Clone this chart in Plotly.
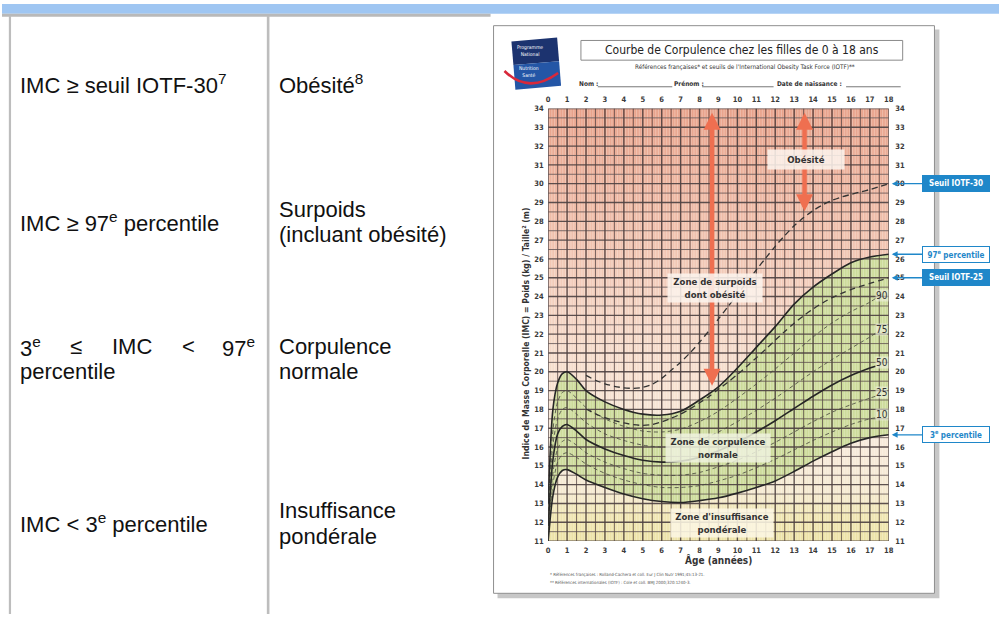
import numpy as np
import plotly.graph_objects as go

W, H = 1004, 619

# ---------------- data ----------------
ages = [0, 0.25, 0.5, 0.75, 1, 1.5, 2, 3, 4, 5, 6, 7, 8, 9, 10, 11, 12, 13, 14, 15, 16, 17, 18]
p97 = [13.0, 18.0, 19.4, 19.9, 20.0, 19.6, 19.0, 18.4, 18.0, 17.75, 17.7, 17.9, 18.5, 19.2, 20.2,
       21.3, 22.4, 23.6, 24.5, 25.2, 25.8, 26.1, 26.25]
p3 = [11.0, 13.4, 14.4, 14.75, 14.8, 14.55, 14.25, 13.85, 13.5, 13.25, 13.1, 13.05, 13.15, 13.3,
      13.55, 13.85, 14.2, 14.7, 15.25, 15.75, 16.2, 16.5, 16.65]

ages_mid = [0, 0.25, 0.5, 0.75, 1, 1.5, 2, 3, 4, 5, 6, 7, 8, 9, 10, 11, 12, 13, 14, 15, 16, 17, 17.3]
p90 = [12.6, 16.9, 18.4, 18.9, 19.0, 18.6, 18.1, 17.5, 17.1, 16.85, 16.8, 16.95, 17.35, 17.9, 18.6,
       19.35, 20.15, 21.0, 21.85, 22.6, 23.2, 23.7, 23.9]
p75 = [12.2, 16.1, 17.5, 18.0, 18.1, 17.75, 17.3, 16.7, 16.35, 16.1, 16.0, 16.05, 16.35, 16.8, 17.35,
       17.95, 18.6, 19.3, 20.0, 20.65, 21.25, 21.85, 22.05]
p50 = [11.8, 15.3, 16.7, 17.1, 17.2, 16.85, 16.4, 15.9, 15.55, 15.3, 15.2, 15.25, 15.45, 15.8, 16.25,
       16.8, 17.4, 18.05, 18.7, 19.3, 19.8, 20.2, 20.3]
p25 = [11.5, 14.6, 15.9, 16.3, 16.4, 16.1, 15.7, 15.2, 14.85, 14.6, 14.5, 14.5, 14.65, 14.95, 15.3,
       15.75, 16.25, 16.8, 17.35, 17.85, 18.25, 18.6, 18.7]
p10 = [11.3, 14.0, 15.2, 15.6, 15.7, 15.45, 15.1, 14.6, 14.25, 14.0, 13.85, 13.85, 13.95, 14.2, 14.5,
       14.9, 15.35, 15.85, 16.35, 16.8, 17.2, 17.5, 17.55]

iotf_ages = [2, 2.5, 3, 3.5, 4, 4.5, 5, 5.5, 6, 6.5, 7, 7.5, 8, 8.5, 9, 9.5, 10, 10.5, 11, 11.5,
             12, 12.5, 13, 13.5, 14, 14.5, 15, 15.5, 16, 16.5, 17, 17.5, 18]
iotf25 = [18.02, 17.76, 17.56, 17.40, 17.28, 17.19, 17.15, 17.20, 17.34, 17.53, 17.75, 18.03, 18.35,
          18.69, 19.07, 19.45, 19.86, 20.29, 20.74, 21.20, 21.68, 22.14, 22.58, 22.98, 23.34, 23.66,
          23.94, 24.17, 24.37, 24.54, 24.70, 24.85, 25.00]
iotf30 = [19.81, 19.55, 19.36, 19.23, 19.15, 19.12, 19.17, 19.34, 19.65, 20.08, 20.51, 21.01, 21.57,
          22.18, 22.81, 23.46, 24.11, 24.77, 25.42, 26.05, 26.67, 27.24, 27.76, 28.20, 28.57, 28.87,
          29.11, 29.29, 29.43, 29.56, 29.69, 29.84, 30.00]

x_ticks = list(range(0, 19))
y_ticks = list(range(11, 35))
mid_labels = ["90", "75", "50", "25", "10"]

# ---------------- helpers ----------------
NARROW = "Liberation Sans Narrow, DejaVu Sans Condensed, Roboto Condensed, Arial Narrow, Roboto, sans-serif"
ARIAL = "Liberation Sans, Arial, sans-serif"


def px(x):
    return x / W


def py(y):
    return 1 - y / H


XMIN, XMAX, YMIN, YMAX = 0, 18, 11, 34
X0P, X1P, Y0P, Y1P = 550, 893, 545, 106

fig = go.Figure()

# green zone between P3 and P97
fig.add_trace(go.Scatter(x=ages, y=p3, mode="lines", line=dict(width=0, shape="spline", smoothing=0.8),
                         hoverinfo="skip", showlegend=False))
fig.add_trace(go.Scatter(x=ages, y=p97, mode="lines", line=dict(width=0, shape="spline", smoothing=0.8),
                         fill="tonexty", fillcolor="rgb(196,213,138)", hoverinfo="skip", showlegend=False))


def grid_trace(xs=None, ys=None, color="black", width=1):
    X, Y = [], []
    if xs is not None:
        for v in xs:
            X += [v, v, None]
            Y += [YMIN, YMAX, None]
    if ys is not None:
        for v in ys:
            X += [XMIN, XMAX, None]
            Y += [v, v, None]
    return go.Scatter(x=X, y=Y, mode="lines", line=dict(color=color, width=width),
                      hoverinfo="skip", showlegend=False)


months = [m / 12 for m in range(0, 18 * 12 + 1) if m % 6 != 0]
fig.add_trace(grid_trace(xs=months, color="rgba(255,255,250,0.55)", width=0.7))
fig.add_trace(grid_trace(xs=[h + 0.5 for h in range(18)], color="rgba(92,78,78,0.8)", width=1.0))
fig.add_trace(grid_trace(ys=[h + 0.5 for h in range(11, 34)], color="rgba(92,78,78,0.8)", width=1.0))
fig.add_trace(grid_trace(xs=x_ticks, color="rgba(78,66,66,0.92)", width=1.35))
fig.add_trace(grid_trace(ys=y_ticks, color="rgba(78,66,66,0.92)", width=1.35))

# curves
thin = dict(color="#4c4c42", width=0.85, dash="4px,3px", shape="spline", smoothing=0.8)
for arr in [p90, p75, p25, p10]:
    fig.add_trace(go.Scatter(x=ages_mid, y=arr, mode="lines", line=thin, hoverinfo="skip", showlegend=False))
fig.add_trace(go.Scatter(x=ages_mid, y=p50, mode="lines",
                         line=dict(color="#262626", width=1.6, shape="spline", smoothing=0.8),
                         hoverinfo="skip", showlegend=False))
for arr in [iotf25, iotf30]:
    fig.add_trace(go.Scatter(x=iotf_ages, y=arr, mode="lines",
                             line=dict(color="#333333", width=1.3, dash="6px,4px", shape="spline", smoothing=0.8),
                             hoverinfo="skip", showlegend=False))
for arr in [p97, p3]:
    fig.add_trace(go.Scatter(x=ages, y=arr, mode="lines",
                             line=dict(color="#262626", width=1.6, shape="spline", smoothing=0.8),
                             hoverinfo="skip", showlegend=False))

# dummy trace for top / right axes
fig.add_trace(go.Scatter(x=[None], y=[None], xaxis="x2", yaxis="y2", showlegend=False, hoverinfo="skip"))

# ---------------- shapes ----------------
shapes = []
# left table decorations
shapes.append(dict(type="rect", xref="paper", yref="paper", x0=0, x1=1, y0=py(10), y1=1,
                   fillcolor="#9fc6f2", line=dict(width=0), layer="below"))
shapes.append(dict(type="rect", xref="paper", yref="paper", x0=0, x1=px(492), y0=py(13), y1=py(10),
                   fillcolor="#b9b9b9", line=dict(width=0), layer="below"))
for xv, wv in [(8, 2.2), (268, 2.6)]:
    shapes.append(dict(type="line", xref="paper", yref="paper", x0=px(xv), x1=px(xv), y0=0, y1=py(12),
                       line=dict(color="#bdbdbd", width=wv), layer="below"))
# document sheet + shadow
shapes.append(dict(type="rect", xref="paper", yref="paper", x0=px(499), x1=px(944), y0=py(603), y1=py(26),
                   fillcolor="rgba(0,0,0,0.22)", line=dict(width=0), layer="below"))
shapes.append(dict(type="rect", xref="paper", yref="paper", x0=px(495), x1=px(939), y0=py(598), y1=py(22),
                   fillcolor="white", line=dict(color="#8f8f8f", width=1), layer="below"))
# title box
shapes.append(dict(type="rect", xref="paper", yref="paper", x0=px(583), x1=px(907), y0=py(57), y1=py(37),
                   fillcolor="white", line=dict(color="#8a8a8a", width=1), layer="below"))
# name fields underlines
for a, b in [(600, 675), (705, 777), (850, 905)]:
    shapes.append(dict(type="line", xref="paper", yref="paper", x0=px(a), x1=px(b), y0=py(84), y1=py(84),
                       line=dict(color="#555", width=0.8), layer="below"))
# logo
shapes.append(dict(type="path", xref="paper", yref="paper",
                   path=f"M {px(513)},{py(38)} L {px(559)},{py(34)} L {px(561)},{py(58)} L {px(515)},{py(62)} Z",
                   fillcolor="#1c336f", line=dict(width=0), layer="below"))
shapes.append(dict(type="path", xref="paper", yref="paper",
                   path=f"M {px(515)},{py(62)} L {px(561)},{py(58)} L {px(563)},{py(83)} L {px(517)},{py(87)} Z",
                   fillcolor="#2456a6", line=dict(width=0), layer="below"))
shapes.append(dict(type="path", xref="paper", yref="paper",
                   path=f"M {px(506)},{py(68)} Q {px(530)},{py(92)} {px(560)},{py(70)}",
                   line=dict(color="#d8283a", width=2.5), layer="below"))

# colored background bands of the chart
stops = [(11, (234, 222, 152)), (12.5, (238, 226, 168)), (13.5, (244, 230, 202)), (16, (247, 231, 214)),
         (20, (246, 218, 200)), (24, (242, 200, 181)), (28, (237, 178, 156)), (34, (229, 146, 120))]
sv = [s[0] for s in stops]
for b in np.arange(YMIN, YMAX, 0.5):
    mid = b + 0.25
    c = [int(np.interp(mid, sv, [s[1][k] for s in stops])) for k in range(3)]
    shapes.append(dict(type="rect", xref="x", yref="y", x0=XMIN, x1=XMAX, y0=b, y1=b + 0.5,
                       fillcolor=f"rgb({c[0]},{c[1]},{c[2]})", line=dict(width=0), layer="below"))

# ---------------- annotations ----------------
ann = []


def txt(x, y, text, size, color="#111", family=ARIAL, xanchor="left", yanchor="middle", **kw):
    ann.append(dict(x=px(x), y=py(y), xref="paper", yref="paper", text=text, showarrow=False,
                    font=dict(size=size, color=color, family=family), xanchor=xanchor, yanchor=yanchor,
                    borderpad=0, **kw))


# left table
T = 22
txt(17, 81, "IMC ≥ seuil IOTF-30<sup>7</sup>", T)
txt(278, 81, "Obésité<sup>8</sup>", T)
txt(17, 221, "IMC ≥ 97<sup>e</sup> percentile", T)
txt(278, 209, "Surpoids", T)
txt(278, 234, "(incluant obésité)", T)
txt(17, 348, "3<sup>e</sup>", T)
txt(67, 348, "≤", T)
txt(110, 348, "IMC", T)
txt(180, 348, "<", T)
txt(221, 348, "97<sup>e</sup>", T)
txt(17, 373, "percentile", T)
txt(278, 348, "Corpulence", T)
txt(278, 373, "normale", T)
txt(17, 527, "IMC < 3<sup>e</sup> percentile", T)
txt(278, 514, "Insuffisance", T)
txt(278, 540, "pondérale", T)

# sheet texts
txt(745, 47, "Courbe de Corpulence chez les filles de 0 à 18 ans", 12, color="#222", family=NARROW,
    xanchor="center")
txt(748, 64, "Références françaises* et seuils de l'International Obesity Task Force (IOTF)**", 6.3,
    color="#333", family=NARROW, xanchor="center")
txt(580, 81, "<b>Nom :</b>", 6.5, color="#333", family=NARROW)
txt(676, 81, "<b>Prénom :</b>", 6.5, color="#333", family=NARROW)
txt(779, 81, "<b>Date de naissance :</b>", 6.5, color="#333", family=NARROW)
txt(518, 47, "Programme<br>National", 5, color="white", family=NARROW)
txt(520, 69, "Nutrition<br>Santé", 5, color="white", family=NARROW)
txt(722, 564, "<b>Âge (années)</b>", 10, color="#333", family=NARROW, xanchor="center")
ann.append(dict(x=px(528), y=py(334), xref="paper", yref="paper", showarrow=False, textangle=-90,
                text="<b>Indice de Masse Corporelle (IMC) = Poids (kg) / Taille² (m)</b>",
                font=dict(size=8.6, color="#333", family=NARROW), xanchor="center", yanchor="middle"))
txt(551, 579, "* Références françaises : Rolland-Cachera et coll. Eur J Clin Nutr 1991;45:13-21.", 4.3,
    color="#555", family=NARROW)
txt(551, 587, "** Références internationales (IOTF) : Cole et coll. BMJ 2000;320:1240-3.", 4.3,
    color="#555", family=NARROW)

# orange double arrows
for a_age, curve_a, curve_v, off in [(8.66, ages, p97, 0.3), (13.55, iotf_ages, iotf30, 0.3)]:
    yend = float(np.interp(a_age, curve_a, curve_v)) + off
    ann.append(dict(x=a_age, y=yend, xref="x", yref="y", ax=a_age, ay=33.85, axref="x", ayref="y",
                    text="", showarrow=True, arrowhead=2, arrowside="end+start", arrowsize=0.75,
                    arrowwidth=4.5, arrowcolor="#ef6f50"))

# zone labels
box_bg = "rgba(252,242,236,0.88)"
ann.append(dict(x=13.6, y=31.26, xref="x", yref="y", text="<b>Obésité</b>", showarrow=False,
                font=dict(size=9.5, color="#333", family=NARROW), bgcolor=box_bg, width=74, height=17))
ann.append(dict(x=8.81, y=24.45, xref="x", yref="y", text="<b>Zone de surpoids<br>dont obésité</b>",
                showarrow=False, font=dict(size=9.5, color="#333", family=NARROW), bgcolor=box_bg,
                width=92, height=26))
ann.append(dict(x=9.0, y=15.95, xref="x", yref="y", text="<b>Zone de corpulence<br>normale</b>",
                showarrow=False, font=dict(size=9.5, color="#333", family=NARROW),
                bgcolor="rgba(238,242,222,0.85)", width=102, height=26))
ann.append(dict(x=9.2, y=11.95, xref="x", yref="y", text="<b>Zone d'insuffisance<br>pondérale</b>",
                showarrow=False, font=dict(size=9.5, color="#333", family=NARROW),
                bgcolor="rgba(252,246,226,0.88)", width=100, height=26))

# percentile labels
for lab, arr in zip(mid_labels, [p90, p75, p50, p25, p10]):
    ann.append(dict(x=17.62, y=arr[-1] + 0.18, xref="x", yref="y", text=lab, showarrow=False,
                    font=dict(size=10, color="#333", family=NARROW), bgcolor="rgba(240,242,225,0.6)",
                    borderpad=0))

# right-hand blue tags
BLUE = "#1f87c9"
for lab, val, filled in [("<b>Seuil IOTF-30</b>", iotf30[-1], True),
                         ("<b>97<sup>e</sup> percentile</b>", p97[-1], False),
                         ("<b>Seuil IOTF-25</b>", iotf25[-1], True),
                         ("<b>3<sup>e</sup> percentile</b>", p3[-1], False)]:
    ann.append(dict(x=18, y=val, xref="x", yref="y", ax=67, ay=0, text=lab, showarrow=True,
                    arrowhead=2, arrowsize=0.9, arrowwidth=1.3, arrowcolor=BLUE, standoff=3,
                    font=dict(size=8, color="white" if filled else BLUE, family=NARROW),
                    bgcolor=BLUE if filled else "white", bordercolor=BLUE, borderwidth=1,
                    width=64, height=13, borderpad=1))

tickfont = dict(size=7.5, color="#3a3a3a", family=NARROW, weight="bold")
xdom = [px(X0P), px(X1P)]
ydom = [py(Y0P), py(Y1P)]
fig.update_layout(
    width=W, height=H, margin=dict(l=0, r=0, t=0, b=0),
    paper_bgcolor="white", plot_bgcolor="rgba(0,0,0,0)",
    showlegend=False,
    xaxis=dict(domain=xdom, range=[XMIN, XMAX], tickvals=x_ticks, showgrid=False, zeroline=False,
               showline=False, ticks="outside", ticklen=2, tickcolor="rgba(0,0,0,0)", tickfont=tickfont,
               fixedrange=True),
    xaxis2=dict(overlaying="x", side="top", anchor="y", range=[XMIN, XMAX], tickvals=x_ticks,
                showgrid=False, zeroline=False, showline=False, ticks="outside", ticklen=2,
                tickcolor="rgba(0,0,0,0)", tickfont=tickfont, fixedrange=True),
    yaxis=dict(domain=ydom, range=[YMIN, YMAX], tickvals=y_ticks, showgrid=False, zeroline=False,
               showline=False, ticks="outside", ticklen=2, tickcolor="rgba(0,0,0,0)", tickfont=tickfont,
               fixedrange=True),
    yaxis2=dict(overlaying="y", side="right", anchor="x", range=[YMIN, YMAX], tickvals=y_ticks,
                showgrid=False, zeroline=False, showline=False, ticks="outside", ticklen=4,
                tickcolor="rgba(0,0,0,0)", tickfont=tickfont, fixedrange=True),
    shapes=shapes,
    annotations=ann,
)

fig.write_html("out.html", config={"displayModeBar": False},
               post_script="document.body.style.margin='0px';document.body.style.overflow='hidden';")
